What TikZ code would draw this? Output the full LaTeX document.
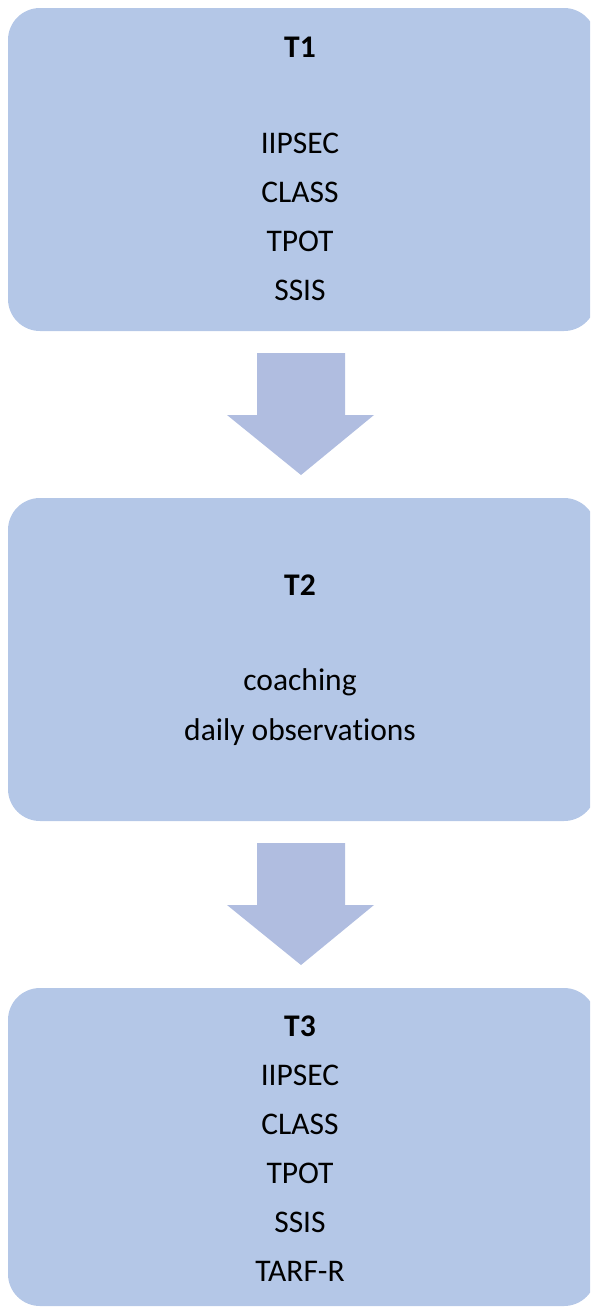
\documentclass[tikz,border=0pt]{standalone}
\usepackage{fontspec}
\setmainfont{Carlito}[Ligatures={NoCommon,NoContextual}]
\definecolor{stageblue}{HTML}{B4C7E7}
\definecolor{arrowblue}{HTML}{B0BDE0}
\tikzset{
  stagebox/.style={rectangle, fill=stageblue, rounded corners=32pt, inner sep=0pt},
  stagetitle/.style={anchor=base, font=\fontsize{31.5}{38}\selectfont\bfseries},
  stageitem/.style={anchor=base, font=\fontsize{31.5}{38}\selectfont},
  flowarrow/.style={fill=arrowblue}
}
\begin{document}
\begin{tikzpicture}[x=1pt, y=-1pt]
  \clip (0,0) rectangle (590,1307);

  % the three stages
  \node[stagebox, minimum width=588, minimum height=323] (t1box) at (302,169.5) {};
  \node[stagebox, minimum width=588, minimum height=323] (t2box) at (302,659.5) {};
  \node[stagebox, minimum width=588, minimum height=318] (t3box) at (302,1147) {};

  % block arrows between stages
  \foreach \top in {353,843}
    \fill[flowarrow] (257,\top) -- (345,\top) -- (345,\top+62) -- (374,\top+62)
      -- (301,\top+122) -- (227,\top+62) -- (257,\top+62) -- cycle;

  % T1
  \node[stagetitle] (t1title) at (300,57) {T1};
  \foreach \item [count=\i] in {IIPSEC,CLASS,TPOT,SSIS}
    \node[stageitem] (t1item\i) at (300,153+49*\i-49) {\item};

  % T2
  \node[stagetitle] (t2title) at (300,595) {T2};
  \node[stageitem] (t2item1) at (300,690) {coaching};
  \node[stageitem] (t2item2) at (300,740) {daily observations};

  % T3
  \node[stagetitle] (t3title) at (300,1036) {T3};
  \foreach \item [count=\i] in {IIPSEC,CLASS,TPOT,SSIS,TARF-R}
    \node[stageitem] (t3item\i) at (300,1085+49*\i-49) {\item};
\end{tikzpicture}
\end{document}
